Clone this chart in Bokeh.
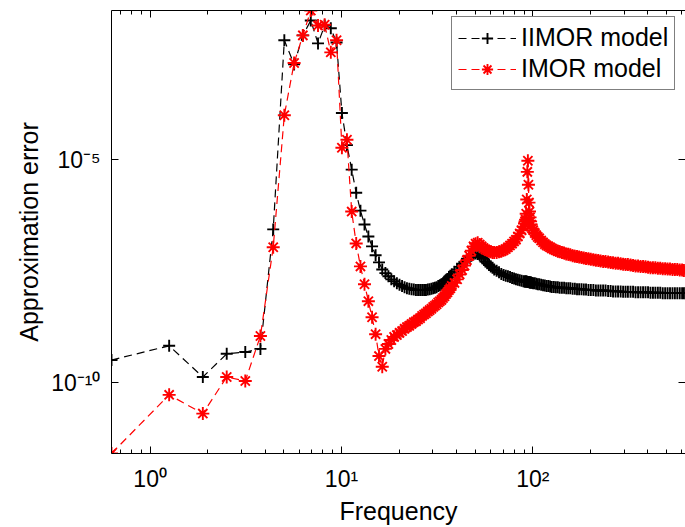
from bokeh.plotting import figure
from bokeh.models import (LogAxis, FixedTicker, CustomJSTickFormatter, Range1d,
                          Legend, LegendItem)
from bokeh.embed import file_html
from bokeh.resources import INLINE

# Frequency samples (rad/s)
freq = [0.628, 1.257, 1.885, 2.513, 3.142, 3.770, 4.398, 5.027, 5.655, 6.283,
        6.912, 7.540, 8.168, 8.796, 9.425, 10.053, 10.681, 11.310, 11.938, 12.566,
        13.195, 13.823, 14.451, 15.080, 15.708, 16.336,
        # dense part
        16.965, 17.593, 18.221, 18.850, 19.478, 20.106, 20.735, 21.363, 21.991, 22.619,
        23.248, 23.876, 24.504, 25.133, 25.761, 26.389, 27.018, 27.646, 28.274, 28.903,
        29.531, 30.159, 30.788, 31.416, 32.044, 32.673, 33.301, 33.929, 34.558, 35.186,
        35.814, 36.442, 37.071, 37.699,
        38.956, 40.212, 41.469, 42.726, 43.982, 45.239, 46.496, 47.752, 49.009, 50.265,
        51.522, 52.779, 54.035, 55.292, 56.549, 57.805, 59.062, 60.319, 61.575, 62.832,
        64.717, 66.602, 68.487, 70.372, 72.257, 74.142, 76.027, 77.911, 79.796, 81.681,
        83.566, 85.451, 87.336, 89.221,
        90.478, 91.106,
        91.735, 92.363, 92.991, 93.619, 94.248, 94.876, 95.504, 96.133, 96.761, 97.389, 98.018,
        99.274, 100.531,
        102.416, 104.301, 106.186, 108.071,
        110.584, 113.097, 115.611, 118.124, 120.637, 123.150,
        125.664, 128.805, 131.947, 135.088, 138.230,
        142.000, 145.770, 149.540, 153.310, 157.080,
        161.478, 165.876, 170.274, 174.673,
        179.699, 184.726, 189.752,
        195.407, 201.062, 207.345, 213.628, 219.911, 226.195,
        233.106, 240.018, 247.557, 255.097, 262.637,
        270.805, 278.973, 287.770, 296.566, 305.363, 314.159,
        324.212, 334.265, 344.319, 354.999, 365.681, 376.991,
        388.301, 400.239, 412.177, 424.743, 437.310,
        450.504, 463.699, 477.522, 491.973, 506.425, 521.504, 537.212, 552.920, 569.257,
        586.221, 603.186, 615.752, 628.319]

# log10 of the approximation error, IIMOR model (black +)
iimor_exp = [-9.49, -9.17, -9.87, -9.35, -9.31, -9.24, -6.56, -2.32, -2.86, -2.21,
             -1.875, -2.39, -1.99, -2.05, -2.37, -3.95, -4.67, -5.22, -5.74, -6.14,
             -6.45, -6.72, -6.94, -7.14, -7.30, -7.46,
             # dense part
             -7.54, -7.61, -7.68, -7.72, -7.77, -7.80, -7.83, -7.86, -7.88, -7.89,
             -7.90, -7.91, -7.92, -7.92, -7.92, -7.92, -7.92, -7.92, -7.91, -7.90,
             -7.89, -7.88, -7.87, -7.86, -7.83, -7.81, -7.79, -7.77, -7.73, -7.70,
             -7.67, -7.63, -7.60, -7.57,
             -7.51, -7.46, -7.40, -7.33, -7.29, -7.23, -7.19, -7.15, -7.12, -7.10,
             -7.11, -7.14, -7.18, -7.22, -7.28, -7.32, -7.36, -7.39, -7.42, -7.46,
             -7.49, -7.52, -7.56, -7.58, -7.60, -7.61, -7.63, -7.65, -7.66, -7.68,
             -7.69, -7.70, -7.71, -7.72,
             -7.73, -7.73,
             -7.73, -7.73, -7.73, -7.74, -7.74, -7.74, -7.74, -7.75, -7.75, -7.75, -7.75,
             -7.76, -7.77,
             -7.77, -7.78, -7.79, -7.79,
             -7.80, -7.81, -7.82, -7.83, -7.83, -7.84,
             -7.85, -7.85, -7.86, -7.86, -7.87,
             -7.87, -7.87, -7.88, -7.88, -7.88,
             -7.89, -7.89, -7.90, -7.90,
             -7.90, -7.91, -7.91,
             -7.92, -7.92, -7.92, -7.93, -7.93, -7.93,
             -7.93, -7.93, -7.94, -7.94, -7.95,
             -7.95, -7.95, -7.95, -7.96, -7.96, -7.96,
             -7.96, -7.96, -7.97, -7.97, -7.97, -7.97,
             -7.97, -7.97, -7.98, -7.98, -7.98,
             -7.98, -7.98, -7.99, -7.99, -7.99, -7.99, -7.99, -7.99, -7.99,
             -7.99, -7.99, -7.99, -7.99]

# log10 of the approximation error, IMOR model (red *)
imor_exp = [-11.585, -10.27, -10.69, -9.87, -9.96, -8.95, -6.96, -4.00, -2.83, -2.21,
            -1.652, -1.99, -1.97, -2.59, -2.32, -4.73, -4.55, -6.16, -6.875, -7.39,
            -7.79, -8.17, -8.53, -8.91, -9.40, -9.64,
            # dense part
            -9.24, -9.13, -9.04, -8.97, -8.93, -8.88, -8.84, -8.79, -8.75, -8.72,
            -8.68, -8.64, -8.62, -8.58, -8.55, -8.50, -8.47, -8.44, -8.40, -8.37,
            -8.34, -8.30, -8.27, -8.24, -8.20, -8.17, -8.14, -8.10, -8.06, -8.01,
            -7.97, -7.92, -7.88, -7.83,
            -7.76, -7.68, -7.57, -7.47, -7.37, -7.25, -7.15, -7.04, -6.94, -6.88,
            -6.86, -6.90, -6.94, -6.98, -7.01, -7.03, -7.05, -7.06, -7.08, -7.08,
            -7.08, -7.06, -7.05, -7.03, -7.00, -6.96, -6.92, -6.88, -6.83, -6.79,
            -6.72, -6.65, -6.58, -6.50,
            -6.43, -6.38,
            -6.34, -6.21, -5.89, -5.27, -5.02, -5.56, -5.96, -6.16, -6.29, -6.38, -6.45,
            -6.54, -6.58,
            -6.64, -6.69, -6.73, -6.76,
            -6.81, -6.85, -6.89, -6.92, -6.94, -6.96,
            -6.99, -7.01, -7.03, -7.05, -7.06,
            -7.08, -7.09, -7.11, -7.12, -7.13,
            -7.15, -7.16, -7.17, -7.18,
            -7.19, -7.20, -7.21,
            -7.22, -7.23, -7.24, -7.25, -7.26, -7.27,
            -7.28, -7.28, -7.29, -7.30, -7.31,
            -7.32, -7.32, -7.33, -7.34, -7.35, -7.35,
            -7.36, -7.37, -7.38, -7.38, -7.39, -7.39,
            -7.40, -7.41, -7.42, -7.42, -7.42,
            -7.43, -7.43, -7.44, -7.44, -7.45, -7.45, -7.46, -7.46, -7.46,
            -7.47, -7.47, -7.48, -7.48]

assert len(freq) == len(iimor_exp) == len(imor_exp)

series_labels = ["IIMOR model", "IMOR model"]
x_major_ticks = [1, 10, 100]
x_minor_ticks = [0.7, 0.8, 0.9, 2, 3, 4, 5, 6, 7, 8, 9,
                 20, 30, 40, 50, 60, 70, 80, 90, 200, 300, 400, 500, 600]
y_major_ticks = [1e-10, 1e-5]

iimor_err = [10.0 ** e for e in iimor_exp]
imor_err = [10.0 ** e for e in imor_exp]

FONT = "Liberation Sans"

p = figure(width=685, height=527, x_axis_type="log", y_axis_type="log",
           x_range=Range1d(min(freq), max(freq)),
           y_range=Range1d(min(iimor_err + imor_err), max(iimor_err + imor_err)),
           output_backend="svg", toolbar_location=None,
           min_border_left=111, min_border_right=0, min_border_top=10, min_border_bottom=72)
p.outline_line_color = None
p.xgrid.visible = False
p.ygrid.visible = False
p.background_fill_color = "white"
p.border_fill_color = "white"

sup_code = """
const s = {'-':'\u207b','0':'\u2070','1':'\u00b9','2':'\u00b2','3':'\u00b3','4':'\u2074',
           '5':'\u2075','6':'\u2076','7':'\u2077','8':'\u2078','9':'\u2079'};
const e = Math.round(Math.log10(tick));
return '10' + String(e).split('').map(c => s[c]).join('');
"""
blank_code = "return '';"


def style_axis(ax, labels=True):
    ax.axis_line_color = "black"
    ax.axis_line_width = 1
    ax.major_tick_in = 7
    ax.major_tick_out = 0
    ax.minor_tick_in = 4
    ax.minor_tick_out = 0
    ax.major_tick_line_color = "black"
    ax.minor_tick_line_color = "black"
    ax.major_label_text_font = FONT
    ax.major_label_text_color = "black"
    if labels:
        ax.major_label_text_font_size = "23px"
        ax.formatter = CustomJSTickFormatter(code=sup_code)
    else:
        ax.major_label_text_font_size = "0px"
        ax.major_label_standoff = 0
        ax.formatter = CustomJSTickFormatter(code=blank_code)
    ax.axis_label_text_font = FONT
    ax.axis_label_text_font_size = "25px"
    ax.axis_label_text_font_style = "normal"
    ax.axis_label_text_color = "black"


xb = p.xaxis[0]
xb.ticker = FixedTicker(ticks=x_major_ticks, minor_ticks=x_minor_ticks)
style_axis(xb)
xb.axis_label = "Frequency"
xb.major_label_standoff = 12
xb.axis_label_standoff = 2

yl = p.yaxis[0]
yl.ticker = FixedTicker(ticks=y_major_ticks, minor_ticks=[])
style_axis(yl)
yl.axis_label = "Approximation error"
yl.major_label_standoff = 11
yl.axis_label_standoff = 5

xt = LogAxis(ticker=FixedTicker(ticks=x_major_ticks, minor_ticks=x_minor_ticks))
style_axis(xt, labels=False)
p.add_layout(xt, "above")

yr = LogAxis(ticker=FixedTicker(ticks=y_major_ticks, minor_ticks=[]))
style_axis(yr, labels=False)
yr.axis_line_color = None
p.add_layout(yr, "right")

l1 = p.line(freq, iimor_err, line_color="black", line_width=1.2, line_dash="8 5")
s1 = p.scatter(freq, iimor_err, marker="cross", size=12, line_color="black", line_width=1.9)
l2 = p.line(freq, imor_err, line_color="#ff0000", line_width=1.2, line_dash="8 5")
s2 = p.scatter(freq, imor_err, marker="asterisk", size=13, line_color="#ff0000", line_width=1.9)

legend = Legend(items=[LegendItem(label=series_labels[0], renderers=[l1, s1]),
                       LegendItem(label=series_labels[1], renderers=[l2, s2])],
                location=(340, 363))
legend.label_text_font = FONT
legend.label_text_font_size = "25px"
legend.label_text_color = "black"
legend.glyph_width = 58
legend.glyph_height = 28
legend.label_standoff = 5
legend.padding = 6
legend.spacing = 2
legend.margin = 0
legend.border_line_color = "black"
legend.border_line_width = 1
legend.background_fill_color = "white"
legend.background_fill_alpha = 1.0
p.add_layout(legend)

open("out.html", "w").write(file_html(p, INLINE))
